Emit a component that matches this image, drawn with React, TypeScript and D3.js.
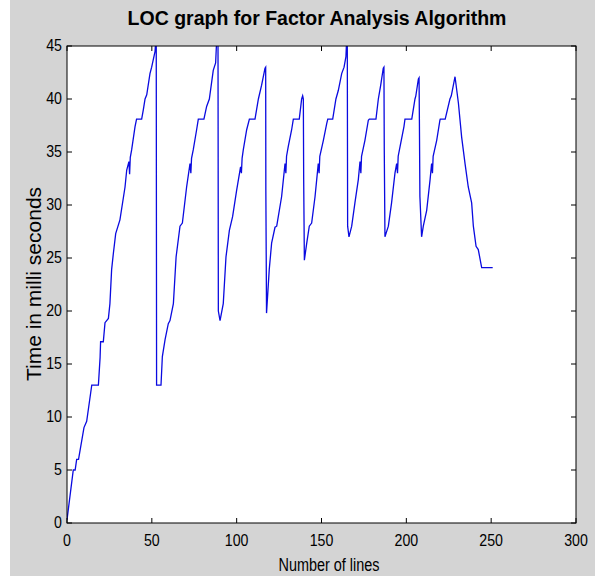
import React from "react";
import * as d3 from "d3";

const xs: number[] = [
  0, 3.7, 4.8, 5.7, 6.8, 10, 11.6, 14.5, 14.6, 18.5, 19.5, 19.8, 21.4, 22.4, 24.4, 25.3, 26.3, 27.3, 28.7, 31.2,
  34.2, 35.2, 36.5, 36.9, 37.3, 38.1, 40.1, 41, 44, 45, 46, 47, 48.9, 49.9, 51.9, 52.3, 52.6, 52.8, 55.4,
  56.2, 57.8, 59.7, 60.7, 62.7, 64.3, 66.6, 68, 70.5, 72.5, 73, 73.4, 74.4, 76.4, 77.4, 80.7, 82.3, 83.9, 86.2,
  87.6, 88.2, 89, 89.2, 90.2,
  92.1, 93.7, 95.7, 97.6, 100, 102.3, 102.8, 103.2, 103.9, 105.9, 107.5, 110.8, 112.8, 114.7, 116.7, 117.1,
  117.2, 117.6,
  119.2, 120.6, 122.6, 123.6, 126.5, 128.5, 129, 129.4, 130.4, 132.4, 133.4, 136.9, 138.3, 138.9, 139.3, 139.5,
  139.9,
  141.3, 142.8, 144.2, 146.2, 148.1, 148.6, 149, 151.1, 153.1, 153.7, 156.6, 158.5, 159.9, 161.9, 163.3, 164.4,
  164.8, 165.2, 165.4, 166.2,
  167.8, 169.7, 171.7, 172.7, 173.2, 173.6, 175.6, 177.6, 178.2, 182.1, 183.5, 184.9, 186.4, 186.8, 187, 187.4,
  189.4, 191.3, 193.3, 194.3, 194.8, 195.2, 196.3, 198.6, 199.2, 203.2, 205.1, 205.6, 207.1, 207.5, 207.7, 208,
  209,
  210, 212, 214, 214.9, 215.4, 215.8, 217.9, 219.8, 220, 222.9, 225.7, 226.5, 228.7, 230.7, 232.6, 234.6, 236.5,
  238.5, 239.5, 241.1, 242.4, 244.4, 250.9,
];

const ys: number[] = [
  0.3, 5, 5, 6, 6, 9, 9.6, 12.9, 13, 13, 15.6, 17.1, 17.1, 18.9, 19.3, 20.7, 23.9, 25.4, 27.3, 28.6,
  31.7, 33.3, 34.1, 32.9, 34.5, 35.2, 37.4, 38.1, 38.1, 39, 40, 40.4, 42.4, 43, 44.5, 45.5, 45.5, 13, 13,
  15.7, 17.3, 18.8, 19.1, 20.7, 25.1, 28, 28.3, 31.7, 33.9, 33, 34.4, 35.2, 37.1, 38.1, 38.1, 39.3, 40, 42.7,
  43.4, 45.5, 45.5, 20, 19.1,
  20.7, 25.1, 27.6, 28.9, 31.4, 33.6, 33, 34.4, 35.2, 37.1, 38.1, 38.1, 40, 41.3, 42.9, 43,
  31.4, 19.8,
  23.9, 26.4, 27.9, 28, 30.8, 33.9, 33, 34.6, 35.5, 37.1, 38.1, 38.1, 40, 40.3, 40, 32.4,
  24.8,
  26.4, 28, 28.3, 30.8, 33.9, 33, 34.6, 36.1, 37.7, 38.1, 38.1, 40, 40.8, 42.4, 43, 44,
  45.5, 45.5, 28, 27,
  28, 30.2, 32.4, 34.1, 33, 34.6, 36.1, 38, 38.1, 38.1, 40, 41.3, 42.9, 43, 35.2, 27,
  28, 30.2, 33, 33.9, 33, 34.6, 35.5, 37.4, 38.1, 38.1, 40, 40.3, 41.9, 42, 38, 30.8,
  27,
  28, 29.5, 32.4, 33.9, 33, 34.6, 36.1, 38, 38.1, 38.1, 40, 40.3, 42.1, 39.6, 36.4, 33.9, 31.7,
  30.2, 28, 26.1, 25.8, 24.1, 24.1,
];

const xTicks: number[] = [0, 50, 100, 150, 200, 250, 300];
const yTicks: number[] = [0, 5, 10, 15, 20, 25, 30, 35, 40, 45];

const title = "LOC graph for Factor Analysis Algorithm";
const xLabel = "Number of lines";
const yLabel = "Time in milli seconds";

export default function App() {
  const W = 595, H = 585;
  const L = 67, R = 576, T = 46, B = 523;
  const x = d3.scaleLinear().domain([0, 300]).range([L, R]);
  const y = d3.scaleLinear().domain([0, 45]).range([B, T]);
  const pts: [number, number][] = xs.map((v, i) => [v, ys[i]]);
  const line = d3.line<[number, number]>().x(d => x(d[0])).y(d => y(d[1]));
  const font = "'Liberation Sans', Arial, sans-serif";
  const tk = 5;
  return (
    <svg width={W} height={H} style={{ position: "absolute", left: 0, top: 0, display: "block" }}>
      <rect x={0} y={0} width={W} height={H} fill="#ffffff" />
      <rect x={10} y={0} width={W - 10} height={576} fill="#d4d4d4" />
      <defs>
        <clipPath id="plotclip">
          <rect x={L} y={T} width={R - L} height={B - T} />
        </clipPath>
      </defs>
      <rect x={L} y={T} width={R - L} height={B - T} fill="#ffffff" />
      <path d={line(pts) || ""} fill="none" stroke="#0a0ae0" strokeWidth={1.3} clipPath="url(#plotclip)" />
      <rect x={L} y={T} width={R - L} height={B - T} fill="none" stroke="#000" strokeWidth={1} />
      {xTicks.map(t => (
        <g key={"x" + t}>
          <line x1={x(t)} x2={x(t)} y1={B} y2={B - tk} stroke="#000" />
          <line x1={x(t)} x2={x(t)} y1={T} y2={T + tk} stroke="#000" />
          <g transform={`translate(${x(t)},${B + 23}) scale(0.86,1)`}>
            <text textAnchor="middle" fontFamily={font} fontSize={16.5} fill="#000">{t}</text>
          </g>
        </g>
      ))}
      {yTicks.map(t => (
        <g key={"y" + t}>
          <line x1={L} x2={L + tk} y1={y(t)} y2={y(t)} stroke="#000" />
          <line x1={R} x2={R - tk} y1={y(t)} y2={y(t)} stroke="#000" />
          <g transform={`translate(${L - 5},${y(t) + 5}) scale(0.86,1)`}>
            <text textAnchor="end" fontFamily={font} fontSize={16.5} fill="#000">{t}</text>
          </g>
        </g>
      ))}
      <g transform={`translate(${317},${25})`}>
        <text textAnchor="middle" fontFamily={font} fontSize={19.5} fontWeight="bold" fill="#000">{title}</text>
      </g>
      <g transform={`translate(${329},${571}) scale(0.76,1)`}>
        <text textAnchor="middle" fontFamily={font} fontSize={19} fill="#000">{xLabel}</text>
      </g>
      <g transform={`translate(${41},${284}) rotate(-90)`}>
        <text textAnchor="middle" fontFamily={font} fontSize={21} fill="#000">{yLabel}</text>
      </g>
    </svg>
  );
}
